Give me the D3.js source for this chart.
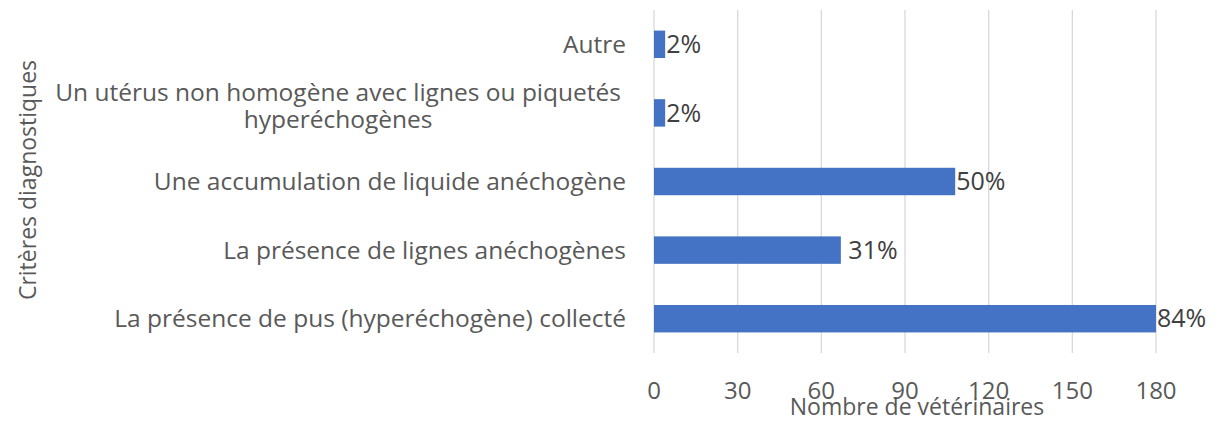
<!DOCTYPE html>
<html>
<head>
<meta charset="utf-8">
<script src="https://cdn.jsdelivr.net/npm/d3@7"></script>
<style>
    body { margin: 0; background: #fff; }
    svg text { font-family: "Open Sans", sans-serif; }
</style>
</head>
<body>
<div id="chart"></div>
<script>
// categories from top to bottom
const categories = [
    "Autre",
    "Un utérus non homogène avec lignes ou piquetés|hyperéchogènes",
    "Une accumulation de liquide anéchogène",
    "La présence de lignes anéchogènes",
    "La présence de pus (hyperéchogène) collecté"
];
const counts = [4, 4, 108, 67, 180];
const pctLabels = ["2%", "2%", "50%", "\u00a031%", "84%"];
const xTicks = [0, 30, 60, 90, 120, 150, 180];
const xTitle = "Nombre de vétérinaires";
const yTitle = "Critères diagnostiques";

const chart = {
    'width': 1218,
    'height': 422,
    'left': 654,
    'right': 1156,
    'top': 10,
    'bottom': 353
};

let svg = d3.select('#chart').append('svg')
    .attr("width", chart.width)
    .attr("height", chart.height);

const x = d3.scaleLinear()
    .domain([0, 180])
    .range([chart.left, chart.right]);
const y = d3.scaleBand()
    .domain(categories)
    .range([chart.top, chart.bottom])
    .paddingInner(0.6)
    .paddingOuter(0.3);

// gridlines
svg.append("g").selectAll("line")
    .data(xTicks)
    .join("line")
    .attr("x1", d => x(d))
    .attr("x2", d => x(d))
    .attr("y1", chart.top)
    .attr("y2", chart.bottom)
    .attr("stroke", "#d9d9d9")
    .attr("stroke-width", 1.3);

// tick labels
svg.append("g").selectAll("text")
    .data(xTicks)
    .join("text")
    .attr("x", d => x(d))
    .attr("y", 399)
    .attr("text-anchor", "middle")
    .attr("font-size", 24)
    .attr("fill", "#595959")
    .text(d => d);

// bars
svg.append("g").selectAll("rect")
    .data(counts)
    .join("rect")
    .attr("x", x(0))
    .attr("y", (d, i) => y(categories[i]))
    .attr("width", d => x(d) - x(0))
    .attr("height", y.bandwidth())
    .attr("fill", "#4472C4");

// data labels
svg.append("g").selectAll("text")
    .data(counts)
    .join("text")
    .attr("x", d => x(d) + 1)
    .attr("y", (d, i) => y(categories[i]) + y.bandwidth() / 2)
    .attr("dy", "0.35em")
    .attr("font-size", 25)
    .attr("fill", "#404040")
    .text((d, i) => pctLabels[i]);

// category labels
let catG = svg.append("g");
categories.forEach(function(c, i) {
    let lines = c.split("|");
    let cy = y(c) + y.bandwidth() / 2;
    let t = catG.append("text")
        .attr("font-size", 24.5)
        .attr("fill", "#595959");
    if (lines.length == 1) {
        t.attr("x", 626).attr("y", cy).attr("dy", "0.35em")
            .attr("text-anchor", "end").text(c);
    } else {
        // wrapped label: lines centred on each other, block right aligned
        t.attr("text-anchor", "middle");
        lines.forEach(function(l, j) {
            t.append("tspan")
                .attr("x", 0)
                .attr("y", cy - 11.7 + j * 26.6)
                .text(l);
        });
        let w = t.node().getBBox().width;
        t.selectAll("tspan").attr("x", 626 - 5 - w / 2);
    }
});

// axis titles
svg.append("text")
    .attr("x", 917)
    .attr("y", 415)
    .attr("text-anchor", "middle")
    .attr("font-size", 23)
    .attr("fill", "#595959")
    .text(xTitle);

svg.append("text")
    .attr("transform", "translate(36,180) rotate(-90)")
    .attr("text-anchor", "middle")
    .attr("font-size", 23)
    .attr("fill", "#595959")
    .text(yTitle);
</script>
</body>
</html>
